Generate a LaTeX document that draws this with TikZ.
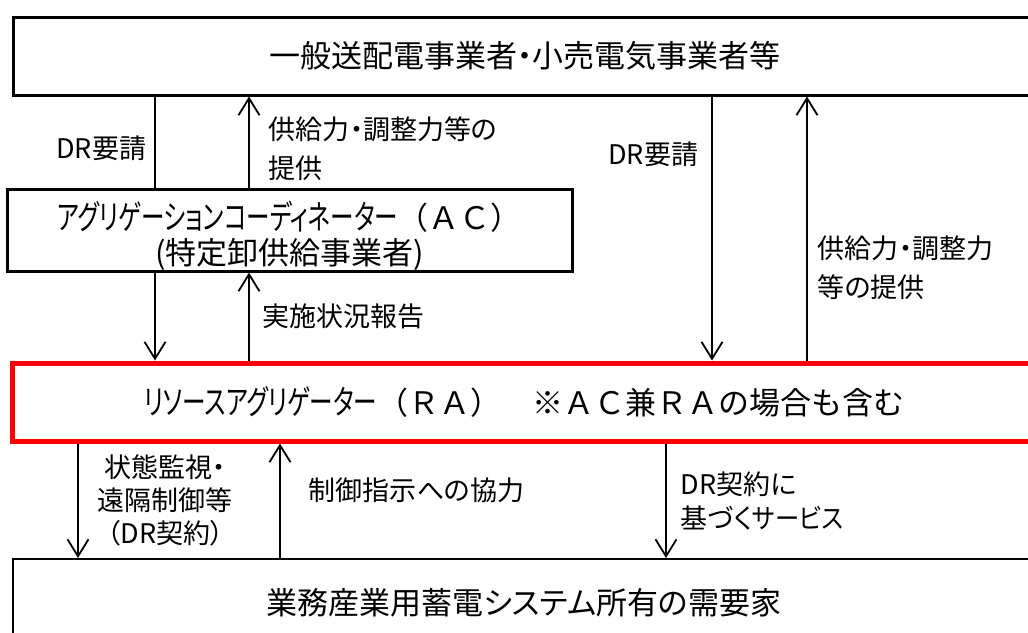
\documentclass[tikz,border=0pt]{standalone}
\usepackage{graphicx}
\usepackage{fontspec}
\setmainfont{Noto Sans CJK JP}[RawFeature=+palt]
\newfontfamily\fullw{Noto Sans CJK JP}
\usepackage{tikz}
\usetikzlibrary{arrows.meta,positioning}
\newcommand{\squeezed}[1]{\scalebox{0.76}[1.08]{#1}}
\tikzset{box/.style={rectangle,draw,line width=3pt,fill=white,inner sep=0pt,align=center,font=\fontsize{31}{35}\selectfont}}
\tikzset{rabox/.style={box,draw=red,line width=5pt}}
\tikzset{lab/.style={inner sep=0pt,align=left,font=\fontsize{27}{39}\selectfont}}

\begin{document}
\begin{tikzpicture}[x=1pt,y=-1pt,>={Straight Barb[length=17pt,width=21pt]},line width=1.8pt]
        \useasboundingbox (0,0) rectangle (1028,632);

        \node[box,minimum width=1024,minimum height=78] (gen) at (525,56) {一般送配電事業者・小売電気事業者等};
        \node[box,minimum width=565,minimum height=77] (ac) at (289.5,230.5) {\rule{0pt}{40pt}\squeezed{アグリゲーションコーディネーター}{\fullw （ＡＣ）}\\(特定卸供給事業者)};
        \node[rabox,minimum width=1024,minimum height=78] (ra) at (524,402) {\squeezed{リソースアグリゲーター}{\fullw （ＲＡ）　※ＡＣ兼ＲＡの場合も含む}};
        \node[box,line width=2pt,minimum width=1022,minimum height=88] (dem) at (524,603) {業務産業用蓄電システム所有の需要家};

        \coordinate (x1) at (155,0);
        \coordinate (x2) at (249,0);
        \coordinate (x3) at (712,0);
        \coordinate (x4) at (807,0);
        \coordinate (x5) at (78,0);
        \coordinate (x6) at (280,0);
        \coordinate (x7) at (666,0);

        \draw (x1 |- gen.south) to []node[lab,left=8pt,yshift=-6pt]{DR要請} (x1 |- ac.north);
        \draw [->] (x1 |- ac.south) to (x1 |- ra.north);
        \draw [->] (x2 |- ac.north) to []node[lab,right=19pt,yshift=-6pt]{供給力・調整力等の\\提供} (x2 |- gen.south);
        \draw [->] (x2 |- ra.north) to []node[lab,right=13pt]{実施状況報告} (x2 |- ac.south);
        \draw [->] (x3 |- gen.south) to []node[lab,left=13pt,pos=0.22]{DR要請} (x3 |- ra.north);
        \draw [->] (x4 |- ra.north) to []node[lab,right=10pt,pos=0.35]{供給力・調整力\\等の提供} (x4 |- gen.south);
        \draw [->] (x5 |- ra.south) to []node[lab,align=center,font=\fontsize{27}{33}\selectfont,right=19pt]{状態監視・\\遠隔制御等\\（DR契約）} (x5 |- dem.north);
        \draw [->] (x6 |- dem.north) to []node[lab,right=28pt,yshift=10pt]{制御指示への協力} (x6 |- ra.south);
        \draw [->] (x7 |- ra.south) to []node[lab,font=\fontsize{27}{34}\selectfont,right=14pt]{DR契約に\\基づく\scalebox{0.9}[1]{サービス}} (x7 |- dem.north);
    \end{tikzpicture}
\end{document}
